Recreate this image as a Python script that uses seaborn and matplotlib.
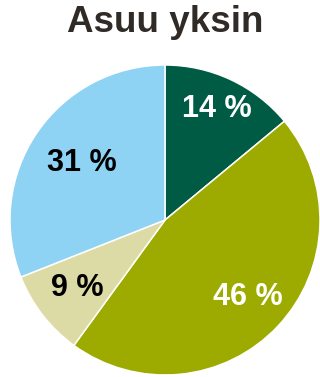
import numpy as np
import matplotlib
matplotlib.use("Agg")
import matplotlib.pyplot as plt
import seaborn as sns

# Share of respondents by category (percent), clockwise from 12 o'clock
categories = ["A", "B", "C", "D"]
shares = [14, 46, 9, 31]
labels = ["14 %", "46 %", "9 %", "31 %"]

colors = ["#005B45", "#9DAB00", "#DCDBA5", "#8ED3F4"]
label_colors = ["white", "white", "black", "black"]
label_dist = [0.79, 0.73, 0.72, 0.65]

sns.set_theme(style="white")
plt.rcParams["font.family"] = ["Liberation Sans", "DejaVu Sans"]

fig = plt.figure(figsize=(3.2, 3.77), dpi=100)
ax = fig.add_axes([10 / 320, 2 / 377, 310 / 320, 310 / 377])

wedges, _ = ax.pie(
    shares,
    colors=colors,
    startangle=90,
    counterclock=False,
    radius=1.0,
    wedgeprops=dict(edgecolor="white", linewidth=1.1),
)

for w, lab, col, d in zip(wedges, labels, label_colors, label_dist):
    mid = np.deg2rad((w.theta1 + w.theta2) / 2)
    ax.text(d * np.cos(mid), d * np.sin(mid), lab, color=col,
            ha="center", va="center", fontsize=22, fontweight="bold")

ax.set_xlim(-1, 1)
ax.set_ylim(-1, 1)
ax.set_aspect("equal")
ax.axis("off")

fig.text(165 / 320, 1 - 22 / 377, "Asuu yksin", ha="center", va="center",
         fontsize=26.5, fontweight="bold", color="#302B26")

fig.savefig("out.png", dpi=100)
